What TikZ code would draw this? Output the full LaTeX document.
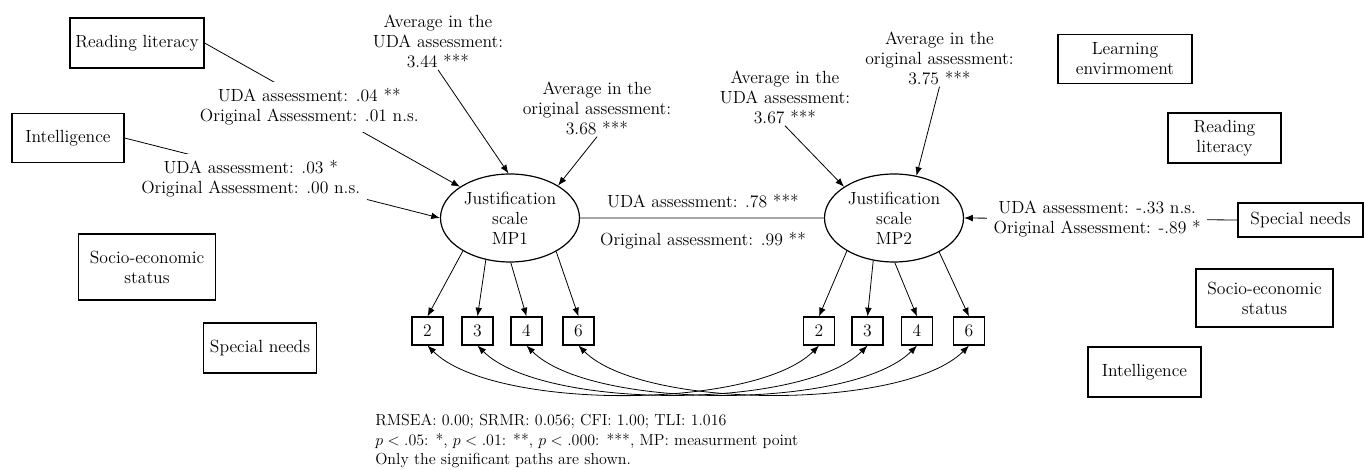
\documentclass[tikz,border=0pt]{standalone}
\usetikzlibrary{arrows.meta,shapes.geometric}
\begin{document}
\begin{tikzpicture}[x=0.75pt,y=-0.75pt,
  every node/.style={font=\fontsize{13.2}{15}\selectfont},
  box/.style={draw,line width=0.9pt,align=center,inner sep=0pt},
  lat/.style={draw,ellipse,line width=0.9pt,align=center,inner sep=0pt,minimum width=104.25pt,minimum height=66pt},
  ind/.style={draw,line width=0.9pt,inner sep=0pt,minimum width=23.25pt,minimum height=21pt},
  txt/.style={align=center,inner sep=1.5pt},
  lbl/.style={align=center,fill=white,inner sep=5pt},
  tip/.tip={Latex[length=6.5pt,width=5pt]},
  arr/.style={-tip,line width=0.6pt},
  cov/.style={tip-tip,line width=0.6pt},
  ln/.style={line width=0.6pt}]
\useasboundingbox (0,0) rectangle (1365,470);

% latent variables
\node[lat] (j1) at (510,218) {Justification\\scale\\MP1};
\node[lat] (j2) at (894,218) {Justification\\scale\\MP2};

% covariate boxes
\node[box,minimum width=100.5pt,minimum height=37.5pt] (rl1) at (137,43) {Reading literacy};
\node[box,minimum width=84pt,minimum height=36.75pt] (int1) at (68,138) {Intelligence};
\node[box,minimum width=102.75pt,minimum height=49.5pt] (ses1) at (147,267) {Socio-economic\\status};
\node[box,minimum width=84.75pt,minimum height=37.5pt] (sn1) at (260,348) {Special needs};
\node[box,minimum width=100.5pt,minimum height=36.75pt] (le) at (1125,59) {Learning\\envirmoment};
\node[box,minimum width=84.75pt,minimum height=37.5pt] (rl2) at (1224.5,138) {Reading\\literacy};
\node[box,minimum width=93.75pt,minimum height=25.5pt] (sn2) at (1300.5,220) {Special needs};
\node[box,minimum width=102.75pt,minimum height=43.5pt] (ses2) at (1264.5,298) {Socio-economic\\status};
\node[box,minimum width=84.75pt,minimum height=37.5pt] (int2) at (1144.5,372) {Intelligence};

% indicators
\node[ind] (a2) at (427.5,331) {2};
\node[ind] (a3) at (477.5,331) {3};
\node[ind] (a4) at (526.5,331) {4};
\node[ind] (a6) at (578.5,331) {6};
\node[ind] (b2) at (819,331) {2};
\node[ind] (b3) at (867.5,331) {3};
\node[ind] (b4) at (917,331) {4};
\node[ind] (b6) at (969,331) {6};

% mean labels
\node[txt] (m1) at (438,41) {Average in the\\UDA assessment:\\3.44 ***};
\node[txt] (m2) at (597,108) {Average in the\\original assessment:\\3.68 ***};
\node[txt] (m3) at (785,97) {Average in the\\UDA assessment:\\3.67 ***};
\node[txt] (m4) at (939.5,58) {Average in the\\original assessment:\\3.75 ***};

\draw[arr] (m1.south) -- (j1.92);
\draw[arr] (m2.south) -- (j1.34);
\draw[arr] (m3.south) -- (j2.148);
\draw[arr] (m4.south) -- (j2.62);

% regression paths
\draw[arr] (rl1.east) -- node[lbl,pos=0.41,yshift=-3.5pt]{UDA assessment: .04 **\\Original Assessment: .01 n.s.} (j1.148);
\draw[arr] (int1.east) -- node[lbl,pos=0.4,yshift=-6.5pt]{UDA assessment: .03 *\\Original Assessment: .00 n.s.} (j1.180);
\draw[arr] (sn2.west) -- node[lbl,pos=0.513]{UDA assessment: -.33 n.s.\\Original Assessment: -.89 *} (j2.east);

% stability
\draw[gray!70,line width=0.8pt] (j1.east) -- (j2.west);
\node[txt] (s1) at (703,201) {UDA assessment: .78 ***};
\node[txt] (s2) at (703,241) {Original assessment: .99 **};

% loadings
\draw[arr] (j1.215) -- (a2.north);
\draw[arr] (j1.240) -- (a3.north);
\draw[arr] (j1.271) -- (a4.north);
\draw[arr] (j1.324) -- (a6.north);
\draw[arr] (j2.215) -- (b2.north);
\draw[arr] (j2.244) -- (b3.north);
\draw[arr] (j2.271) -- (b4.north);
\draw[arr] (j2.323) -- (b6.north);

% residual covariances
\draw[cov] (a2.south) to[out=-45,in=-135,looseness=0.6] (b2.south);
\draw[cov] (a3.south) to[out=-45,in=-135,looseness=0.6] (b3.south);
\draw[cov] (a4.south) to[out=-45,in=-135,looseness=0.6] (b4.south);
\draw[cov] (a6.south) to[out=-45,in=-135,looseness=0.6] (b6.south);

% note
\node[anchor=west,align=left,inner sep=0pt,font=\fontsize{12}{14.6}\selectfont] (note) at (375,441)
 {RMSEA: 0.00; SRMR: 0.056; CFI: 1.00; TLI: 1.016\\
  $p<.05$: *, $p<.01$: **, $p<.000$: ***, MP: measurment point\\
  Only the significant paths are shown.};
\end{tikzpicture}
\end{document}
